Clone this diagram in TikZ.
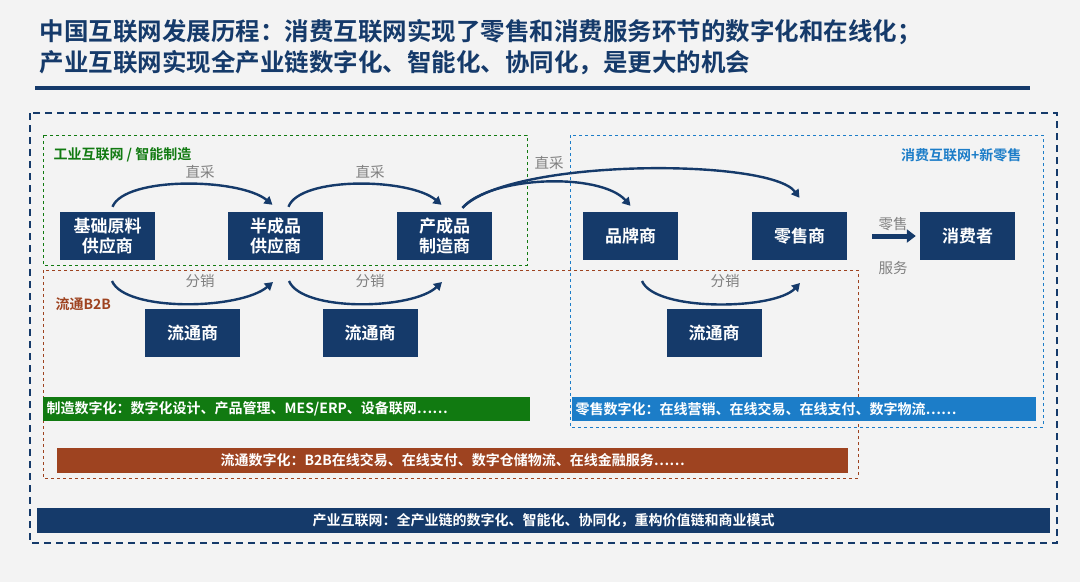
\documentclass[tikz,border=0pt]{standalone}
\usepackage{fontspec}
\setmainfont{Noto Sans CJK SC}
\newfontfamily\cjkb{Noto Sans CJK SC Bold}
\usetikzlibrary{arrows.meta}
\definecolor{navy}{HTML}{153A6A}
\definecolor{gbar}{HTML}{117A11}
\definecolor{bbar}{HTML}{1C7DC8}
\definecolor{obar}{HTML}{9E4320}
\definecolor{bg}{HTML}{F3F3F3}
\tikzset{
 box/.style={fill=navy,text=white,font=\cjkb\fontsize{17}{20}\selectfont,minimum width=95pt,minimum height=48pt,inner sep=0pt,align=center},
 arc/.style={navy,line width=2.4pt,-{Triangle[length=8pt,width=9pt]}},
 lbl/.style={text=gray,font=\fontsize{14.5}{16}\selectfont},
 bar/.style={text=white,font=\cjkb\fontsize{14}{15}\selectfont,inner sep=0pt,minimum height=24pt},
 grp/.style={font=\cjkb\fontsize{14}{16}\selectfont},
}
\begin{document}
\begin{tikzpicture}[x=1pt,y=-1pt]
\useasboundingbox[fill=bg] (0,0) rectangle (1080,582);
\node[anchor=west,text=navy,font=\cjkb\fontsize{24.5}{28}\selectfont] (t1) at (36,32) {中国互联网发展历程：消费互联网实现了零售和消费服务环节的数字化和在线化；};
\node[anchor=west,text=navy,font=\cjkb\fontsize{24.5}{28}\selectfont] (t2) at (36,63) {产业互联网实现全产业链数字化、智能化、协同化，是更大的机会};
\fill[navy] (35,86) rectangle (1030,90);
\draw[navy,line width=1.8pt,dash pattern=on 7pt off 5pt] (30,113) rectangle (1057,543);
\draw[gbar,line width=0.9pt,dashed] (43,135) rectangle (527,265);
\draw[obar,line width=0.9pt,dashed] (43,270) rectangle (858,478);
\draw[bbar,line width=0.9pt,dashed] (570,135) rectangle (1043,427);
\node[anchor=west,text=gbar,grp] (lg) at (50,155) {工业互联网 / 智能制造};
\node[anchor=west,text=obar,grp] (lo) at (52,304) {流通B2B};
\node[anchor=east,text=bbar,grp] (lb) at (1025,155) {消费互联网+新零售};
\node[box] (a) at (107.5,236) {基础原料\\供应商};
\node[box] (b) at (275.5,236) {半成品\\供应商};
\node[box] (c) at (444.5,236) {产成品\\制造商};
\node[box] (d) at (630.5,236) {品牌商};
\node[box] (e) at (799.5,236) {零售商};
\node[box] (f) at (967.5,236) {消费者};
\node[box] (g1) at (192.5,333) {流通商};
\node[box] (g2) at (370,333) {流通商};
\node[box] (g3) at (714,333) {流通商};
\coordinate (s1) at (112,281);
\coordinate (e1) at (273,282);
\coordinate (s2) at (289,281);
\coordinate (e2) at (442,282);
\coordinate (s3) at (642,281);
\coordinate (e3) at (800,283);
\draw[arc] ([xshift=5pt,yshift=5pt]a.north) .. controls (125,176) and (240,178) .. ([xshift=-3pt,yshift=7pt]b.north);
\draw[arc] ([xshift=13pt,yshift=5pt]b.north) .. controls (300,176) and (410,178) .. ([xshift=-3pt,yshift=7pt]c.north);
\draw[arc] ([xshift=18pt,yshift=4pt]c.north) .. controls (490,176) and (600,172) .. ([yshift=6pt]d.north);
\draw[arc] ([xshift=18pt,yshift=4pt]c.north) .. controls (510,158) and (770,158) .. ([yshift=14pt]e.north);
\draw[arc] (s1) .. controls (125,312) and (240,310) .. (e1);
\draw[arc] (s2) .. controls (302,312) and (412,310) .. (e2);
\draw[arc] (s3) .. controls (655,312) and (775,310) .. (e3);
\node[lbl] (z1) at (200,172) {直采};
\node[lbl] (z2) at (370,172) {直采};
\node[lbl] (z3) at (549,163) {直采};
\node[lbl] (f1) at (200,281) {分销};
\node[lbl] (f2) at (370,281) {分销};
\node[lbl] (f3) at (725,281) {分销};
\draw[navy,line width=5pt,-{Triangle[length=9pt,width=13pt]}] ([xshift=25pt]e.east) -- ([xshift=-4pt]f.west);
\node[lbl] (r1) at (893,224) {零售};
\node[lbl] (r2) at (893,268) {服务};
\node[bar,fill=gbar,minimum width=487pt,anchor=west,text width=480pt,align=left] (b1) at (43,409) {制造数字化：数字化设计、产品管理、MES/ERP、设备联网……};
\node[bar,fill=bbar,minimum width=464pt,anchor=west,text width=457pt,align=left] (b2) at (572,409) {零售数字化：在线营销、在线交易、在线支付、数字物流……};
\node[bar,fill=obar,minimum width=791pt,minimum height=25pt,anchor=west] (b3) at (57,460) {流通数字化：B2B在线交易、在线支付、数字仓储物流、在线金融服务……};
\node[bar,fill=navy,minimum width=1013pt,minimum height=25pt,anchor=west] (b4) at (37,520) {产业互联网：全产业链的数字化、智能化、协同化，重构价值链和商业模式};
\end{tikzpicture}
\end{document}
